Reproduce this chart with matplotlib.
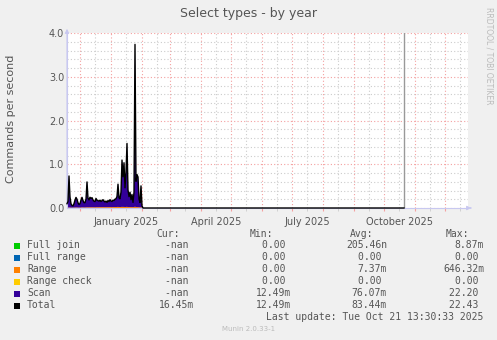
import numpy as np
import pandas as pd
import matplotlib
matplotlib.use("Agg")
import matplotlib.pyplot as plt
import matplotlib.dates as mdates
from matplotlib.patches import Rectangle

W, H = 497, 340

# daily samples, Nov 18 2024 .. Feb 1 2025 (later days are empty)
first_day = "2024-11-18"
last_update = "2025-10-21"
view_end = "2025-12-24"

scan = [0.09, 0.14, 0.72, 0.24, 0.09, 0.05, 0.04, 0.09, 0.17, 0.23,
        0.19, 0.11, 0.07, 0.09, 0.17, 0.23, 0.16, 0.11, 0.11, 0.19,
        0.58, 0.21, 0.17, 0.23, 0.20, 0.22, 0.17, 0.14, 0.13, 0.20,
        0.16, 0.15, 0.14, 0.16, 0.13, 0.15, 0.17, 0.14, 0.12, 0.14,
        0.11, 0.15, 0.13, 0.17, 0.14, 0.13, 0.16, 0.15, 0.18, 0.19,
        0.24, 0.52, 0.21, 0.19, 0.34, 1.07, 0.69, 1.01, 0.44, 0.79,
        1.45, 0.39, 0.24, 0.34, 0.17, 0.29, 0.11, 0.34, 3.71, 0.59,
        0.74, 0.69, 0.19, 0.11, 0.49, 0.04]
range_ = [0.008, 0.010, 0.012, 0.010, 0.008, 0.008, 0.009, 0.010, 0.011, 0.012,
          0.012, 0.010, 0.009, 0.010, 0.012, 0.014, 0.013, 0.012, 0.012, 0.014,
          0.016, 0.015, 0.015, 0.016, 0.016, 0.017, 0.016, 0.015, 0.016, 0.018,
          0.018, 0.017, 0.018, 0.019, 0.018, 0.019, 0.020, 0.019, 0.018, 0.019,
          0.019, 0.020, 0.019, 0.021, 0.020, 0.019, 0.020, 0.021, 0.022, 0.022,
          0.023, 0.025, 0.022, 0.021, 0.023, 0.026, 0.024, 0.025, 0.022, 0.024,
          0.026, 0.022, 0.020, 0.021, 0.019, 0.020, 0.018, 0.020, 0.030, 0.020,
          0.021, 0.020, 0.016, 0.015, 0.016, 0.010]

names = ["Full join", "Full range", "Range", "Range check", "Scan", "Total"]
colors = ["#00CC00", "#0066B3", "#FF8000", "#FFCC00", "#330099", "#000000"]
cur = ["-nan ", "-nan ", "-nan ", "-nan ", "-nan ", "16.45m"]
mins = ["0.00 ", "0.00 ", "0.00 ", "0.00 ", "12.49m", "12.49m"]
avgs = ["205.46n", "0.00 ", "7.37m", "0.00 ", "76.07m", "83.44m"]
maxs = ["8.87m", "0.00 ", "646.32m", "0.00 ", "22.20 ", "22.43 "]

days = pd.date_range(first_day, last_update, freq="D")
n = len(days)
pad = np.zeros(n - len(scan))
scan_s = np.concatenate([scan, pad])
range_s = np.concatenate([range_, pad])
zero_s = np.zeros(n)
stack = [zero_s, zero_s, range_s, zero_s, scan_s]
total = np.sum(stack, axis=0)

bg = "#F0F0F0"
txt = "#555555"

fig = plt.figure(figsize=(W / 100, H / 100), dpi=100, facecolor=bg)

def fx(px):
    return px / W

def fy(py):
    return 1 - py / H

L, R, T, B = 67, 468, 33, 208
ax = fig.add_axes([fx(L), fy(B), fx(R - L), (B - T) / H])
ax.set_facecolor("white")

ax.stackplot(days, stack, colors=colors[:5], linewidth=0)
ax.plot(days, total, color="black", linewidth=1.0, clip_on=False, zorder=5)
ax.axvline(pd.Timestamp(last_update), color="#999999", linewidth=1.0)

ax.set_xlim(pd.Timestamp(first_day), pd.Timestamp(view_end))
ax.set_ylim(0, 4.0)

# grid like rrdtool: red major, gray minor, dotted
ax.xaxis.set_major_locator(mdates.MonthLocator())
ax.xaxis.set_minor_locator(mdates.MonthLocator(bymonthday=16))
ax.yaxis.set_major_locator(plt.MultipleLocator(1.0))
ax.yaxis.set_minor_locator(plt.MultipleLocator(0.2))
ax.grid(which="minor", color="#CCCCCC", linestyle=(0, (1, 2)), linewidth=0.8)
ax.grid(which="major", color="#F4A0A0", linestyle=(0, (1, 2)), linewidth=0.8)
ax.set_axisbelow(True)
ax.xaxis.set_major_formatter(plt.NullFormatter())
ax.tick_params(which="both", length=2, color="#F4A0A0", labelsize=7, labelcolor=txt, pad=2)
ax.tick_params(axis="x", which="minor", color="#CCCCCC")
ax.tick_params(axis="y", which="both", length=0)
ax.set_yticks([0, 1, 2, 3, 4])
ax.set_yticklabels(["0.0", "1.0", "2.0", "3.0", "4.0"])

# quarter labels, centred in the month as rrdtool does
for m in ["2025-01-16", "2025-04-16", "2025-07-16", "2025-10-16"]:
    ts = pd.Timestamp(m)
    ax.text(ts, -0.08, ts.strftime("%B %Y"), transform=ax.get_xaxis_transform(),
            ha="center", va="center", fontsize=7, color=txt)

for s in ["top", "right"]:
    ax.spines[s].set_visible(False)
ax.spines["left"].set_color("#C8C8F0")
ax.spines["bottom"].set_color("#C8C8F0")
ax.annotate("", xy=(fx(L), fy(26)), xytext=(fx(L), fy(B)), xycoords="figure fraction",
            arrowprops=dict(arrowstyle="-|>", color="#C8C8F0", lw=0.8, mutation_scale=6))
ax.annotate("", xy=(fx(474), fy(B)), xytext=(fx(R), fy(B)), xycoords="figure fraction",
            arrowprops=dict(arrowstyle="-|>", color="#C8C8F0", lw=0.8, mutation_scale=6))

fig.text(fx(249), fy(13), "Select types - by year", ha="center", va="center",
         fontsize=9, color=txt)
fig.text(fx(11), fy(119), "Commands per second", ha="center", va="center",
         rotation=90, fontsize=8, color=txt)
fig.text(fx(489), fy(56), "RRDTOOL / TOBI OETIKER", ha="center", va="center",
         rotation=270, fontsize=5.5, color="#BBBBBB")

# legend block
mono = "DejaVu Sans Mono"
fs = 7
row_y = [245.5, 257.5, 269.5, 281.5, 293.5, 305.5]
fig.text(fx(180), fy(234), "Cur:", ha="right", va="center", fontsize=fs, family=mono, color=txt)
fig.text(fx(273), fy(234), "Min:", ha="right", va="center", fontsize=fs, family=mono, color=txt)
fig.text(fx(373), fy(234), "Avg:", ha="right", va="center", fontsize=fs, family=mono, color=txt)
fig.text(fx(469), fy(234), "Max:", ha="right", va="center", fontsize=fs, family=mono, color=txt)
for i, name in enumerate(names):
    y = row_y[i]
    fig.patches.append(Rectangle((fx(14), fy(y + 3)), fx(6), 6 / H, transform=fig.transFigure,
                                 facecolor=colors[i], edgecolor="none"))
    fig.text(fx(27), fy(y), name, ha="left", va="center", fontsize=fs, family=mono, color=txt)
    fig.text(fx(194), fy(y), cur[i], ha="right", va="center", fontsize=fs, family=mono, color=txt)
    fig.text(fx(291), fy(y), mins[i], ha="right", va="center", fontsize=fs, family=mono, color=txt)
    fig.text(fx(387), fy(y), avgs[i], ha="right", va="center", fontsize=fs, family=mono, color=txt)
    fig.text(fx(484), fy(y), maxs[i], ha="right", va="center", fontsize=fs, family=mono, color=txt)

fig.text(fx(483), fy(317), "Last update: Tue Oct 21 13:30:33 2025", ha="right", va="center",
         fontsize=fs, family=mono, color=txt)
fig.text(fx(249), fy(329), "Munin 2.0.33-1", ha="center", va="center", fontsize=5, color="#BBBBBB")

fig.savefig("out.png", dpi=100, facecolor=bg)
